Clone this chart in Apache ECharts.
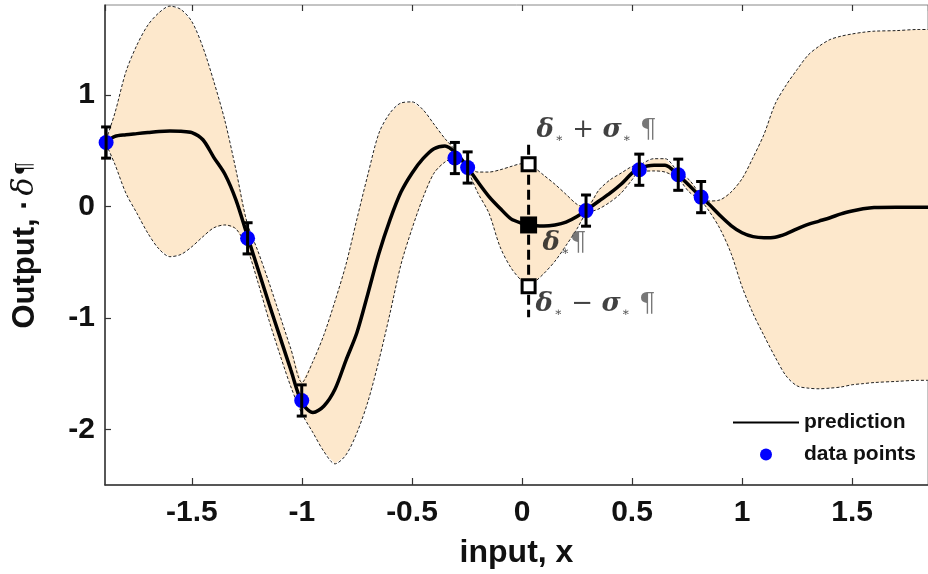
<!DOCTYPE html>
<html>
<head>
<meta charset="utf-8">
<script src="https://cdn.jsdelivr.net/npm/echarts@6/dist/echarts.min.js"></script>
<style>
  html, body { margin: 0; padding: 0; background: #fff; }
  #chart { width: 928px; height: 574px; }
</style>
</head>
<body>
<div id="chart"></div>
<script>
// Gaussian-process style prediction: mean curve and ±σ band sampled on an input grid
const xGrid = [-1.89, -1.85, -1.80, -1.75, -1.70, -1.65, -1.60, -1.55, -1.50, -1.45,
  -1.40, -1.35, -1.30, -1.25, -1.20, -1.15, -1.10, -1.05, -1.00, -0.95,
  -0.90, -0.85, -0.80, -0.75, -0.70, -0.65, -0.60, -0.55, -0.50, -0.45,
  -0.40, -0.35, -0.30, -0.25, -0.20, -0.15, -0.10, -0.05, 0.00, 0.03,
  0.05, 0.10, 0.15, 0.20, 0.25, 0.29, 0.35, 0.40, 0.45, 0.50,
  0.53, 0.60, 0.65, 0.71, 0.76, 0.81, 0.85, 0.90, 0.95, 1.00,
  1.05, 1.10, 1.15, 1.20, 1.25, 1.30, 1.35, 1.40, 1.45, 1.50,
  1.55, 1.60, 1.70, 1.80, 1.845];
const predMean = [0.58, 0.63, 0.645, 0.655, 0.665, 0.675, 0.678, 0.676, 0.665, 0.60,
  0.44, 0.29, 0.06, -0.25, -0.56, -0.87, -1.17, -1.47, -1.76, -1.85,
  -1.79, -1.64, -1.38, -1.13, -0.78, -0.42, -0.12, 0.13, 0.30, 0.43,
  0.52, 0.545, 0.48, 0.36, 0.22, 0.09, -0.015, -0.11, -0.15, -0.165,
  -0.17, -0.175, -0.165, -0.14, -0.09, -0.035, 0.05, 0.12, 0.20, 0.30,
  0.34, 0.37, 0.37, 0.28, 0.19, 0.09, 0.02, -0.08, -0.17, -0.235,
  -0.27, -0.28, -0.275, -0.245, -0.20, -0.16, -0.13, -0.10, -0.065, -0.04,
  -0.02, -0.008, -0.005, -0.005, -0.005];
const bandUpper = [0.60, 0.84, 1.21, 1.45, 1.63, 1.74, 1.80, 1.77, 1.66, 1.43,
  1.12, 0.77, 0.33, -0.14, -0.40, -0.68, -0.98, -1.28, -1.58, -1.39,
  -1.15, -0.85, -0.52, -0.11, 0.29, 0.66, 0.84, 0.93, 0.94, 0.87,
  0.74, 0.61, 0.50, 0.37, 0.31, 0.31, 0.33, 0.36, 0.385, 0.38,
  0.36, 0.28, 0.20, 0.11, 0.02, -0.01, 0.15, 0.24, 0.30, 0.36,
  0.37, 0.43, 0.43, 0.31, 0.24, 0.11, 0.05, 0.06, 0.13, 0.25,
  0.44, 0.65, 0.92, 1.09, 1.23, 1.36, 1.44, 1.50, 1.53, 1.55,
  1.565, 1.575, 1.58, 1.59, 1.59];
const bandLower = [0.56, 0.38, 0.12, -0.06, -0.24, -0.38, -0.45, -0.43, -0.36, -0.27,
  -0.19, -0.165, -0.20, -0.37, -0.68, -1.02, -1.33, -1.62, -1.86, -2.03,
  -2.20, -2.31, -2.23, -2.03, -1.75, -1.38, -0.96, -0.52, -0.20, 0.08,
  0.30, 0.40, 0.44, 0.33, 0.12, -0.06, -0.36, -0.55, -0.67, -0.715,
  -0.69, -0.60, -0.49, -0.35, -0.20, -0.07, -0.02, 0.04, 0.12, 0.24,
  0.31, 0.32, 0.31, 0.25, 0.13, 0.06, -0.04, -0.20, -0.42, -0.72,
  -0.96, -1.16, -1.35, -1.52, -1.61, -1.63, -1.636, -1.63, -1.62, -1.60,
  -1.59, -1.58, -1.57, -1.56, -1.56];

// Observations with their noise bars
const obsX = [-1.89, -1.247, -1.001, -0.305, -0.247, 0.291, 0.533, 0.710, 0.814];
const obsY = [0.575, -0.285, -1.741, 0.436, 0.351, -0.036, 0.331, 0.286, 0.085];
const obsErr = [0.14, 0.14, 0.14, 0.14, 0.14, 0.14, 0.14, 0.14, 0.14];

// Test input x* with prediction δ* and δ* ± σ*
const testX = 0.03;
const testMean = -0.165;
const testUpper = 0.38;
const testLower = -0.715;
const testGuide = [0.556, -0.994];

const xTicks = [-1.5, -1, -0.5, 0, 0.5, 1, 1.5];
const yTicks = [-2, -1, 0, 1];

const SANS = '"Liberation Sans", Arial, sans-serif';
const MATH = '"DejaVu Serif", "Liberation Serif", serif';

const chart = echarts.init(document.getElementById('chart'), null, { renderer: 'canvas' });

const symRich = {
  g: { fontFamily: MATH, fontStyle: 'italic', fontWeight: 'bold', fontSize: 26, color: '#111', lineHeight: 30 },
  s: { fontFamily: MATH, fontSize: 12, color: '#222', verticalAlign: 'bottom', lineHeight: 30, padding: [0, 1, 0, 1] },
  o: { fontFamily: MATH, fontSize: 26, color: '#111', lineHeight: 30 },
  p: { fontFamily: MATH, fontSize: 26, color: '#555', lineHeight: 30 }
};

function fmtFromTicks(ticks) {
  return function (v) {
    for (const t of ticks) if (Math.abs(v - t) < 1e-9) return String(t);
    return '';
  };
}

const option = {
  animation: false,
  backgroundColor: '#fff',
  grid: { left: 105, right: 0, top: 5, bottom: 88, show: true, borderColor: '#888', borderWidth: 1 },
  legend: {
    data: [
      { name: 'prediction', itemStyle: { opacity: 0 } },
      { name: 'data points' }
    ],
    orient: 'vertical',
    left: 732, top: 412,
    padding: 0,
    itemGap: 11,
    itemWidth: 66, itemHeight: 12,
    textStyle: { fontFamily: SANS, fontWeight: 'bold', fontSize: 21, color: '#111' }
  },
  xAxis: [{
    type: 'value', min: -1.895, max: 1.845, minInterval: 0.5, maxInterval: 0.5,
    position: 'bottom',
    name: 'input, x', nameLocation: 'middle', nameGap: 52,
    nameTextStyle: { fontFamily: SANS, fontWeight: 'bold', fontSize: 32, color: '#111' },
    axisLine: { show: true, onZero: false, lineStyle: { color: '#333', width: 1.5 } },
    axisTick: { show: true, inside: true, length: 7, lineStyle: { color: '#333', width: 1.2 } },
    axisLabel: { fontFamily: SANS, fontWeight: 'bold', fontSize: 30, color: '#111', margin: 13,
      showMinLabel: false, showMaxLabel: false, formatter: fmtFromTicks(xTicks) },
    splitLine: { show: false }
  }, {
    type: 'value', min: -1.895, max: 1.845, minInterval: 0.5, maxInterval: 0.5,
    position: 'top',
    axisLine: { show: false, onZero: false },
    axisTick: { show: true, inside: true, length: 6, lineStyle: { color: '#333', width: 1.2 } },
    axisLabel: { show: false },
    splitLine: { show: false }
  }],
  yAxis: {
    type: 'value', min: -2.5, max: 1.81, minInterval: 1, maxInterval: 1,
    name: '{a|Output, ·}{b|δ}{c|¶}', nameLocation: 'middle', nameGap: 64,
    nameTextStyle: {
      rich: {
        a: { fontFamily: SANS, fontWeight: 'bold', fontSize: 31, color: '#111' },
        b: { fontFamily: MATH, fontStyle: 'italic', fontSize: 30, color: '#111', padding: [0, 2, 0, 4] },
        c: { fontFamily: MATH, fontSize: 22, color: '#111' }
      }
    },
    axisLine: { show: true, onZero: false, lineStyle: { color: '#333', width: 1.5 } },
    axisTick: { show: true, inside: true, length: 6, lineStyle: { color: '#333', width: 1.2 } },
    axisLabel: { fontFamily: SANS, fontWeight: 'bold', fontSize: 30, color: '#111', margin: 10,
      showMinLabel: false, showMaxLabel: false, formatter: fmtFromTicks(yTicks) },
    splitLine: { show: false }
  },
  series: [
    {
      // shaded ±σ region
      type: 'custom', name: 'band', silent: true, z: 1,
      data: [[xGrid[0], bandLower[0]]],
      renderItem: function (params, api) {
        const pts = [];
        for (let i = 0; i < xGrid.length; i++) pts.push(api.coord([xGrid[i], bandUpper[i]]));
        for (let i = xGrid.length - 1; i >= 0; i--) pts.push(api.coord([xGrid[i], bandLower[i]]));
        return { type: 'polygon', shape: { points: pts }, style: { fill: '#FDE8CC', stroke: null } };
      }
    },
    {
      type: 'line', name: 'upper', silent: true, z: 2, symbol: 'none', smooth: 0.3,
      data: xGrid.map((x, i) => [x, bandUpper[i]]),
      lineStyle: { color: '#222', width: 1, type: [3, 2] }
    },
    {
      type: 'line', name: 'lower', silent: true, z: 2, symbol: 'none', smooth: 0.3,
      data: xGrid.map((x, i) => [x, bandLower[i]]),
      lineStyle: { color: '#222', width: 1, type: [3, 2] }
    },
    {
      type: 'line', name: 'prediction', z: 3, symbol: 'none', smooth: 0.3,
      data: xGrid.map((x, i) => [x, predMean[i]]),
      lineStyle: { color: '#000', width: 3.5 },
      itemStyle: { color: '#000' }
    },
    {
      type: 'scatter', name: 'data points', z: 4, clip: false,
      symbol: 'circle', symbolSize: 15,
      data: obsX.map((x, i) => [x, obsY[i]]),
      itemStyle: { color: '#0000FF', opacity: 1 }
    },
    {
      // noise bars on the observations
      type: 'custom', name: 'error bars', z: 5, clip: false, silent: true,
      data: obsX.map((x, i) => [x, obsY[i] - obsErr[i], obsY[i] + obsErr[i]]),
      encode: { x: 0, y: [1, 2] },
      renderItem: function (params, api) {
        const lo = api.coord([api.value(0), api.value(1)]);
        const hi = api.coord([api.value(0), api.value(2)]);
        const cw = 5;
        const st = { stroke: '#000', lineWidth: 3 };
        return {
          type: 'group', children: [
            { type: 'line', shape: { x1: lo[0], y1: lo[1], x2: hi[0], y2: hi[1] }, style: st },
            { type: 'line', shape: { x1: lo[0] - cw, y1: lo[1], x2: lo[0] + cw, y2: lo[1] }, style: st },
            { type: 'line', shape: { x1: hi[0] - cw, y1: hi[1], x2: hi[0] + cw, y2: hi[1] }, style: st }
          ]
        };
      }
    },
    {
      // guide through the test input
      type: 'line', name: 'test guide', z: 6, symbol: 'none', silent: true,
      data: [[testX, testGuide[0]], [testX, testGuide[1]]],
      lineStyle: { color: '#000', width: 3, type: [10, 5] }
    },
    {
      type: 'scatter', name: 'test bounds', z: 7, symbol: 'rect', symbolSize: 13, silent: true,
      data: [[testX, testUpper], [testX, testLower]],
      itemStyle: { color: '#fff', borderColor: '#000', borderWidth: 3, opacity: 1 }
    },
    {
      type: 'scatter', name: 'test mean', z: 7, symbol: 'rect', symbolSize: 17, silent: true,
      data: [[testX, testMean]],
      itemStyle: { color: '#000', opacity: 1 }
    },
    {
      type: 'scatter', name: 'test labels', z: 8, symbolSize: 0, silent: true,
      data: [
        { value: [testX, testUpper], label: { offset: [3, -34], formatter: '{g|δ}{s|∗}{o| + }{g|σ}{s|∗}{o| }{p|¶}' } },
        { value: [testX, testMean], label: { offset: [9, 18], formatter: '{g|δ}{s|∗}{p|¶}' } },
        { value: [testX, testLower], label: { offset: [2, 18], formatter: '{g|δ}{s|∗}{o| − }{g|σ}{s|∗}{o| }{p|¶}' } }
      ],
      label: { show: true, position: 'right', distance: 5, rich: symRich }
    }
  ]
};

chart.setOption(option);
</script>
</body>
</html>
